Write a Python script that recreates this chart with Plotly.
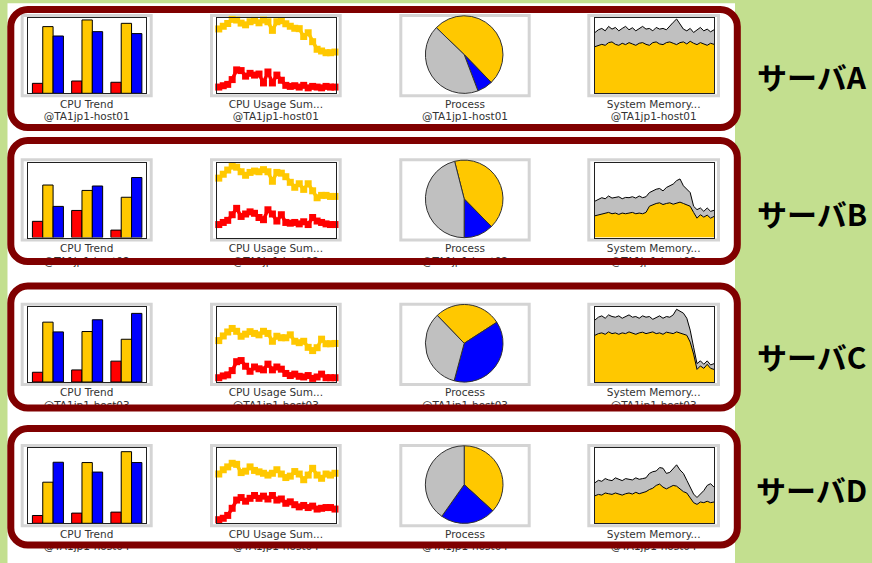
import plotly.graph_objects as go

W, H = 872, 563

# ---------------- data ----------------
servers = ["サーバA", "サーバB", "サーバC", "サーバD"]
hosts = ["@TA1jp1-host01", "@TA1jp1-host02", "@TA1jp1-host03", "@TA1jp1-host04"]
thumb_titles = ["CPU Trend", "CPU Usage Sum...", "Process", "System Memory..."]

trend_groups = ["1", "2", "3"]
trend_red_a = [13.3, 16.4, 14.7]
trend_yellow_a = [88.9, 97.8, 93.3]
trend_blue_a = [76.4, 82.2, 79.6]
trend_red_b = [21.7, 36.2, 10.0]
trend_yellow_b = [70.1, 62.9, 53.8]
trend_blue_b = [41.6, 68.8, 80.1]
trend_red_c = [13.0, 16.1, 27.8]
trend_yellow_c = [79.8, 67.3, 57.0]
trend_blue_c = [66.8, 83.0, 91.5]
trend_red_d = [10.4, 13.6, 14.9]
trend_yellow_d = [54.8, 81.0, 95.5]
trend_blue_d = [81.4, 68.3, 81.0]

usage_yellow_a = [83.9, 85.8, 89.4, 93.1, 98.6, 97.7, 93.6, 91.3, 95.4, 97.2, 94.0, 97.7, 95.4, 83.9,
                  95.4, 96.8, 92.7, 89.4, 86.7, 86.2, 75.7, 80.7, 68.8, 58.7, 56.4, 54.1, 54.1, 55.0]
usage_red_a = [9.2, 8.3, 10.1, 11.9, 18.3, 31.2, 30.3, 22.9, 26.6, 24.3, 25.7, 13.8, 28.4, 13.8,
               24.3, 17.4, 10.6, 9.2, 10.1, 8.3, 10.6, 7.3, 9.2, 8.3, 7.3, 9.2, 8.3, 8.3]
usage_yellow_b = [77.5, 79.3, 84.5, 90.1, 95.3, 93.9, 87.8, 83.1, 86.9, 88.7, 87.8, 90.6, 87.8, 75.1,
                  86.9, 85.9, 81.2, 73.7, 67.1, 71.8, 64.3, 71.8, 62.4, 53.1, 56.3, 56.3, 54.9, 54.9]
usage_red_b = [18.8, 17.4, 20.2, 23.0, 30.5, 39.0, 28.2, 31.5, 34.3, 32.4, 26.8, 23.9, 37.1, 31.5,
               22.1, 30.5, 20.2, 19.2, 20.2, 18.3, 21.1, 17.4, 26.8, 22.1, 20.2, 18.3, 17.4, 17.4]
usage_yellow_c = [53.3, 55.2, 61.4, 66.7, 71.4, 67.6, 61.0, 63.8, 67.1, 64.8, 62.9, 67.6, 64.8, 54.3,
                  61.0, 59.0, 59.0, 62.9, 54.3, 52.4, 54.3, 46.2, 41.9, 45.7, 57.1, 51.0, 51.0, 51.4]
usage_red_c = [6.7, 5.7, 8.1, 9.5, 15.2, 27.1, 28.6, 21.0, 14.3, 20.0, 17.6, 16.2, 23.8, 16.2,
               20.0, 17.1, 11.4, 8.6, 10.5, 7.6, 6.7, 8.6, 4.8, 6.7, 10.5, 5.7, 5.7, 5.7]
usage_yellow_d = [61.9, 65.7, 71.4, 75.2, 80.0, 78.6, 67.6, 69.5, 75.2, 70.5, 68.6, 66.7, 64.3, 66.7,
                  71.4, 65.7, 61.0, 62.9, 69.0, 65.7, 58.1, 64.3, 73.3, 64.3, 60.0, 65.7, 64.3, 66.7]
usage_red_d = [7.1, 4.8, 6.7, 10.5, 20.0, 31.0, 34.3, 29.5, 33.3, 37.1, 33.3, 36.2, 32.4, 37.1,
               31.0, 32.4, 26.7, 28.6, 24.8, 21.9, 23.8, 21.0, 22.9, 19.0, 20.0, 21.0, 21.0, 19.0]

process_labels = ["P1", "P2", "P3"]
process_a = [50.5, 6.5, 43.0]
process_b = [41.6, 12.4, 46.0]
process_c = [28.1, 38.3, 33.6]
process_d = [36.8, 23.0, 40.2]
process_start = [-46, -14.3, -44, 0]

mem_used_a = [62.2, 64.0, 65.3, 64.0, 67.6, 68.5, 65.3, 64.0, 66.7, 64.9, 67.6, 65.8, 64.0, 66.7, 67.6, 65.3, 64.0, 67.6,
              68.5, 65.8, 64.9, 67.6, 68.5, 66.7, 64.9, 67.6, 68.5, 65.8, 69.4, 66.7, 64.9, 67.6, 65.8, 64.0, 66.7, 65.3]
mem_total_a = [81.1, 84.7, 86.5, 83.3, 89.2, 85.6, 87.8, 83.3, 86.5, 89.2, 84.7, 87.4, 83.3, 86.5, 89.2, 85.6, 86.5, 83.3,
               87.8, 85.6, 86.5, 84.7, 90.1, 94.6, 99.1, 92.3, 85.6, 83.3, 86.5, 81.1, 84.7, 87.8, 83.3, 85.6, 82.0, 84.7]
mem_used_b = [29.1, 30.0, 30.9, 31.8, 33.6, 31.8, 32.7, 30.9, 32.7, 31.8, 32.7, 33.6, 31.8, 32.7, 31.8, 33.6, 41.8, 44.1,
              45.5, 46.4, 44.1, 45.5, 46.4, 44.5, 46.4, 47.3, 45.5, 44.1, 41.8, 33.6, 25.9, 30.5, 27.3, 30.0, 25.9, 28.2]
mem_total_b = [48.6, 50.9, 53.2, 51.8, 55.5, 52.7, 53.2, 54.5, 51.8, 53.6, 53.2, 54.5, 52.7, 55.5, 53.2, 54.5, 60.0, 62.3,
               64.5, 65.5, 62.3, 66.8, 69.1, 71.4, 75.9, 78.2, 69.1, 64.5, 60.0, 41.8, 37.3, 39.5, 35.0, 39.5, 35.0, 36.4]
mem_used_c = [62.3, 64.5, 65.5, 63.6, 66.8, 64.5, 65.5, 63.6, 65.5, 64.5, 66.8, 65.5, 63.6, 65.5, 66.4, 64.5, 65.5, 66.8,
              64.5, 65.5, 63.6, 66.4, 65.5, 64.5, 66.8, 65.5, 64.5, 62.3, 53.2, 37.3, 16.8, 21.4, 18.2, 23.6, 18.2, 16.8]
mem_total_c = [82.7, 86.4, 88.2, 85.0, 89.5, 87.3, 86.4, 88.2, 85.0, 87.3, 89.5, 86.4, 87.3, 85.0, 88.2, 86.4, 87.3, 83.6,
               86.4, 88.2, 85.0, 87.3, 86.4, 89.5, 97.0, 94.1, 91.8, 85.0, 69.1, 46.4, 24.5, 28.2, 23.6, 28.2, 22.7, 24.5]
mem_used_d = [36.7, 38.5, 37.6, 40.4, 39.4, 38.5, 40.4, 39.4, 37.6, 39.4, 40.4, 39.0, 41.3, 39.4, 40.4, 42.2, 45.0, 46.8,
              50.5, 52.3, 48.2, 45.9, 48.2, 50.5, 49.5, 45.9, 42.2, 40.4, 34.4, 27.5, 25.2, 28.4, 27.5, 29.4, 27.5, 28.4]
mem_total_d = [54.1, 57.3, 56.0, 59.6, 57.8, 56.9, 60.6, 58.7, 56.9, 59.6, 58.7, 57.8, 60.6, 58.7, 59.6, 60.6, 66.5, 68.8,
               69.7, 74.3, 73.4, 66.5, 67.9, 73.4, 78.0, 71.1, 66.5, 57.3, 48.2, 39.0, 34.4, 39.0, 43.6, 50.5, 52.8, 48.2]

trend_rows = [(trend_red_a, trend_yellow_a, trend_blue_a), (trend_red_b, trend_yellow_b, trend_blue_b),
              (trend_red_c, trend_yellow_c, trend_blue_c), (trend_red_d, trend_yellow_d, trend_blue_d)]
usage_rows = [(usage_yellow_a, usage_red_a), (usage_yellow_b, usage_red_b),
              (usage_yellow_c, usage_red_c), (usage_yellow_d, usage_red_d)]
process_rows = [process_a, process_b, process_c, process_d]
mem_rows = [(mem_used_a, mem_total_a), (mem_used_b, mem_total_b),
            (mem_used_c, mem_total_c), (mem_used_d, mem_total_d)]

# ---------------- style / layout constants ----------------
YELLOW = "#ffc800"
RED = "#ff0000"
BLUE = "#0000ff"
GRAY = "#c0c0c0"
FRAME = "#d4d4d4"
MAROON = "#800000"
GREEN = "#c3df8f"

row_off = [0, 144.3, 288.7, 430]
frame_y = (14, 97.3)
plot_y = (18.3, 93.3)
frames_x = [(20.7, 152.7), (210, 341.7), (399.3, 530.7), (587.3, 720)]
plots_x = [(28.3, 146), (217.3, 335.7), None, (595, 714)]
label_cx = [(a + b) / 2 for a, b in frames_x]
label_dy = (105, 117.7)
pie_c = (464.2, 54.6)
pie_r = 38.8
box_y = [(9.5, 127.5), (140.5, 261.5), (286, 408), (428.5, 545)]
box_x = (10.8, 737.3)
server_y = [76, 213, 356, 489]


def pxx(x):
    return x / W


def pyy(y):
    return 1 - y / H


fig = go.Figure()
layout_axes = {}
counter = [0]


def add_axes(x0, x1, y0, y1, xr, yr, visible=True, xtype="linear"):
    counter[0] += 1
    n = counter[0]
    s = "" if n == 1 else str(n)
    common = dict(showline=visible, mirror=True, linecolor="#202020", linewidth=1, showgrid=False,
                  zeroline=False, showticklabels=False, ticks="", fixedrange=True, visible=visible)
    layout_axes["xaxis" + s] = dict(domain=[pxx(x0), pxx(x1)], range=xr, anchor="y" + s, type=xtype, **common)
    layout_axes["yaxis" + s] = dict(domain=[pyy(y1), pyy(y0)], range=yr, anchor="x" + s, **common)
    return "x" + s, "y" + s


shapes = []
# white panel
shapes.append(dict(type="rect", xref="paper", yref="paper", x0=pxx(7.5), x1=pxx(735), y0=pyy(563), y1=pyy(3.3),
                   fillcolor="white", line=dict(width=0), layer="below"))

for r in range(4):
    o = row_off[r]
    # thumbnail frames
    for c in range(4):
        fx0, fx1 = frames_x[c]
        shapes.append(dict(type="rect", xref="paper", yref="paper", x0=pxx(fx0), x1=pxx(fx1),
                           y0=pyy(o + frame_y[1]), y1=pyy(o + frame_y[0]),
                           fillcolor=FRAME, line=dict(width=0), layer="below"))
        shapes.append(dict(type="rect", xref="paper", yref="paper", x0=pxx(fx0 + 3), x1=pxx(fx1 - 3),
                           y0=pyy(o + frame_y[1] - 3), y1=pyy(o + frame_y[0] + 3),
                           fillcolor="white", line=dict(width=0), layer="below"))

    # CPU Trend bars
    xa, ya = add_axes(plots_x[0][0], plots_x[0][1], o + plot_y[0], o + plot_y[1], [-0.5, 2.5], [0, 100],
                      xtype="category")
    for vals, col in zip(trend_rows[r], [RED, YELLOW, BLUE]):
        fig.add_trace(go.Bar(x=trend_groups, y=vals, xaxis=xa, yaxis=ya, marker=dict(color=col, line=dict(color="#000", width=1)),
                             showlegend=False, hoverinfo="skip"))

    # CPU Usage summary
    xa, ya = add_axes(plots_x[1][0], plots_x[1][1], o + plot_y[0], o + plot_y[1], [0.67, 27.16], [0, 100])
    for vals, col in zip(usage_rows[r], [YELLOW, RED]):
        fig.add_trace(go.Scatter(x=list(range(len(vals))), y=vals, xaxis=xa, yaxis=ya, mode="lines+markers",
                                 line=dict(color=col, width=3.5),
                                 marker=dict(color=col, symbol="square", size=7, line=dict(width=0)),
                                 cliponaxis=False, showlegend=False, hoverinfo="skip"))

    # Process pie
    cx, cy = pie_c[0], pie_c[1] + o
    fig.add_trace(go.Pie(labels=process_labels, values=process_rows[r], sort=False, direction="clockwise",
                         rotation=process_start[r], textinfo="none", hoverinfo="skip",
                         marker=dict(colors=[YELLOW, BLUE, GRAY], line=dict(color="#303030", width=1)),
                         domain=dict(x=[pxx(cx - pie_r), pxx(cx + pie_r)], y=[pyy(cy + pie_r), pyy(cy - pie_r)]),
                         showlegend=False))

    # System memory
    used, total = mem_rows[r]
    xa, ya = add_axes(plots_x[3][0], plots_x[3][1], o + plot_y[0], o + plot_y[1], [0, len(used) - 1], [0, 100])
    fig.add_trace(go.Scatter(x=list(range(len(used))), y=used, xaxis=xa, yaxis=ya, mode="lines", fill="tozeroy",
                             fillcolor=YELLOW, line=dict(color="#000", width=1), showlegend=False, hoverinfo="skip"))
    fig.add_trace(go.Scatter(x=list(range(len(total))), y=total, xaxis=xa, yaxis=ya, mode="lines", fill="tonexty",
                             fillcolor=GRAY, line=dict(color="#000", width=1), showlegend=False, hoverinfo="skip"))

# overlay subplot for small labels (so the maroon boxes can sit above them)
xo, yo = add_axes(0, W, 0, H, [0, W], [H, 0], visible=False)
lab_x, lab_y, lab_t = [], [], []
for r in range(4):
    o = row_off[r]
    for c in range(4):
        lab_x += [label_cx[c], label_cx[c]]
        lab_y += [o + label_dy[0], o + label_dy[1]]
        lab_t += [thumb_titles[c], hosts[r]]
fig.add_trace(go.Scatter(x=lab_x, y=lab_y, text=lab_t, mode="text", xaxis=xo, yaxis=yo,
                         textfont=dict(family="DejaVu Sans", size=10.5, color="#333333"),
                         textposition="middle center", showlegend=False, hoverinfo="skip"))


def rounded_path(x0, y0, x1, y1, R):
    k = 0.5523 * R
    pts = [
        ("M", [(x0 + R, y0)]),
        ("L", [(x1 - R, y0)]),
        ("C", [(x1 - R + k, y0), (x1, y0 + R - k), (x1, y0 + R)]),
        ("L", [(x1, y1 - R)]),
        ("C", [(x1, y1 - R + k), (x1 - R + k, y1), (x1 - R, y1)]),
        ("L", [(x0 + R, y1)]),
        ("C", [(x0 + R - k, y1), (x0, y1 - R + k), (x0, y1 - R)]),
        ("L", [(x0, y0 + R)]),
        ("C", [(x0, y0 + R - k), (x0 + R - k, y0), (x0 + R, y0)]),
    ]
    s = ""
    for cmd, ps in pts:
        s += cmd + " " + " ".join(f"{pxx(a):.5f},{pyy(b):.5f}" for a, b in ps) + " "
    return s + "Z"


for r in range(4):
    y0, y1 = box_y[r]
    shapes.append(dict(type="path", xref="paper", yref="paper", path=rounded_path(box_x[0], y0, box_x[1], y1, 17),
                       line=dict(color=MAROON, width=7), fillcolor="rgba(0,0,0,0)", layer="above"))

annotations = []
for r in range(4):
    annotations.append(dict(text=servers[r], xref="paper", yref="paper", x=pxx(811.5), y=pyy(server_y[r]),
                            xanchor="center", yanchor="middle", showarrow=False,
                            font=dict(family="Noto Sans CJK JP", size=30, color="#000", weight="bold")))

fig.update_layout(width=W, height=H, autosize=False, margin=dict(l=0, r=0, t=0, b=0, pad=0),
                  paper_bgcolor=GREEN, plot_bgcolor="rgba(0,0,0,0)", barmode="group", bargap=0.21,
                  bargroupgap=0, showlegend=False, shapes=shapes, annotations=annotations, **layout_axes)

fig.write_html("out.html", config={"displayModeBar": False, "staticPlot": True},
               post_script="document.body.style.margin='0';document.body.style.overflow='hidden';")
